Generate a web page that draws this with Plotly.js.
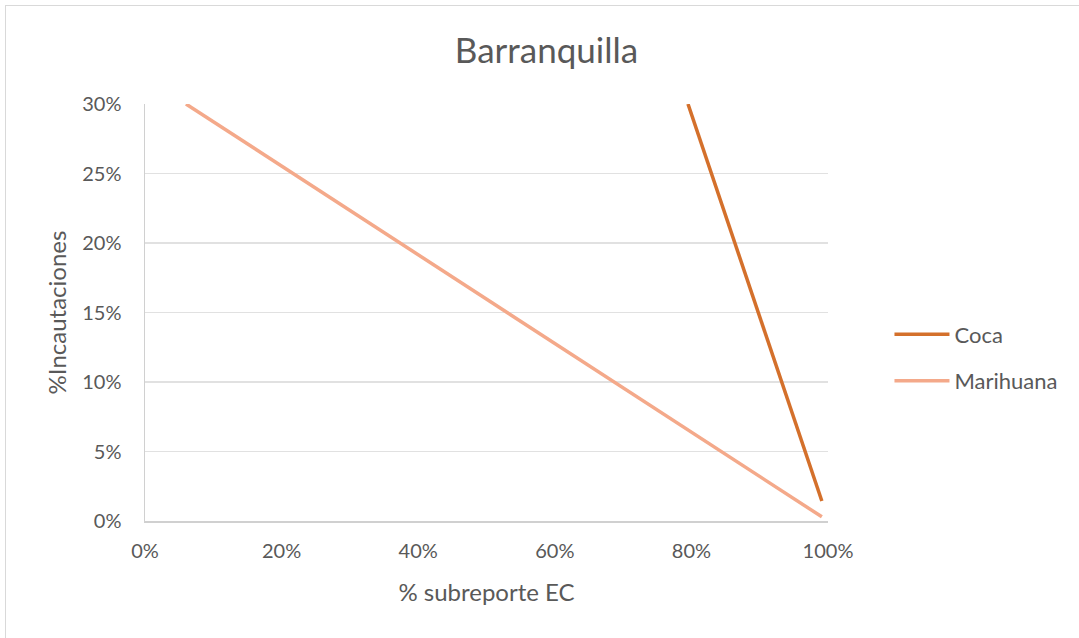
<!DOCTYPE html>
<html>
<head>
<meta charset="utf-8">
<script src="https://cdn.plot.ly/plotly-3.0.1.min.js"></script>
<style>
html,body{margin:0;padding:0;background:#fff;overflow:hidden;}
#frame{position:absolute;left:5px;top:5px;width:1100px;height:700px;border:1px solid #d9d9d9;box-sizing:border-box;}
#chart{position:absolute;left:0;top:0;width:1079px;height:638px;}
</style>
</head>
<body>
<div id="frame"></div>
<div id="chart"></div>
<script>
const seriesNames = ["Coca", "Marihuana"];
const cocaX = [0.795, 0.991];
const cocaY = [0.30, 0.0144];
const mariX = [0.06, 0.991];
const mariY = [0.30, 0.003];
const xTicks = [0, 0.2, 0.4, 0.6, 0.8, 1.0];
const xTickLabels = ["0%", "20%", "40%", "60%", "80%", "100%"];
const yTicks = [0, 0.05, 0.10, 0.15, 0.20, 0.25, 0.30];
const yTickLabels = ["0%", "5%", "10%", "15%", "20%", "25%", "30%"];

const font = "Lato, 'Open Sans', sans-serif";
const gray = "#595959";

const traces = [
  {x: cocaX, y: cocaY, name: seriesNames[0], legendgroup: "a", mode: "lines", line: {color: "#d4702b", width: 3.5}},
  {x: mariX, y: mariY, name: seriesNames[1], legendgroup: "b", mode: "lines", line: {color: "#f4a98a", width: 3.5}}
];

const layout = {
  width: 1079, height: 638,
  margin: {l: 145, r: 251, t: 104, b: 117},
  paper_bgcolor: "rgba(0,0,0,0)",
  plot_bgcolor: "rgba(0,0,0,0)",
  font: {family: font, color: gray, size: 20},
  title: {text: "Barranquilla", font: {size: 35, color: gray, family: font}, x: 0.5065, xanchor: "center", y: 0.921, yanchor: "middle"},
  xaxis: {
    range: [0, 1], tickvals: xTicks, ticktext: xTickLabels,
    showgrid: false, zeroline: false, showline: true, linecolor: "#d0d0d0", linewidth: 1.5,
    ticks: "outside", ticklen: 11, tickcolor: "rgba(0,0,0,0)", tickfont: {size: 20, color: gray}, fixedrange: true,
    automargin: false,
    title: {text: "% subreporte EC", font: {size: 24, color: gray}, standoff: 23}
  },
  yaxis: {
    range: [0, 0.30], tickvals: yTicks, ticktext: yTickLabels,
    showgrid: true, gridcolor: "#e1e1e1", gridwidth: 1.2, zeroline: false,
    showline: true, linecolor: "#d0d0d0", linewidth: 1.5,
    ticks: "outside", ticklen: 18, tickcolor: "rgba(0,0,0,0)", tickfont: {size: 20, color: gray}, fixedrange: true,
    automargin: false,
    title: {text: "%Incautaciones", font: {size: 24, color: gray}, standoff: 9}
  },
  showlegend: true,
  legend: {x: 1.09, xanchor: "left", y: 0.391, yanchor: "middle", font: {size: 22, color: gray},
           itemwidth: 55, traceorder: "grouped", tracegroupgap: 15, bgcolor: "rgba(0,0,0,0)"}
};

Plotly.newPlot("chart", traces, layout, {displayModeBar: false, staticPlot: true});
</script>
</body>
</html>
